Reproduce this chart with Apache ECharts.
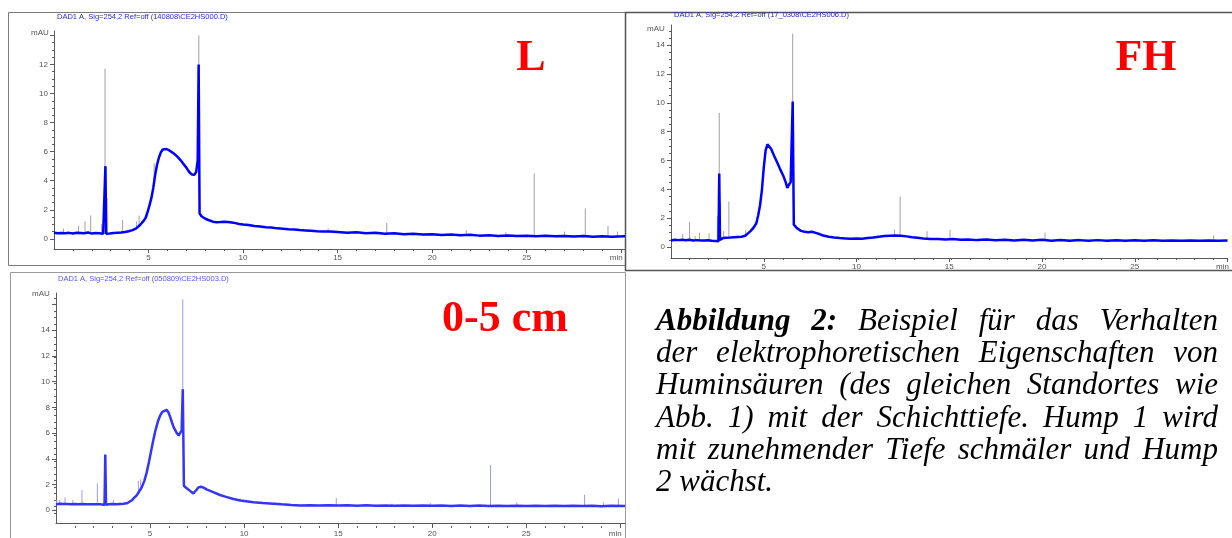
<!DOCTYPE html>
<html>
<head>
<meta charset="utf-8">
<script src="https://cdn.jsdelivr.net/npm/echarts@6/dist/echarts.min.js"></script>
<style>
  html, body { margin: 0; padding: 0; background: #fff; }
  #chart { position: absolute; left: 0; top: 0; width: 1232px; height: 538px; }
  #caption { position: absolute; left: 656px; top: 304px; width: 562px;
    font: italic 31px/32.2px "Liberation Serif", "Times New Roman", serif; color: #000; }
  #caption div { text-align: justify; text-align-last: justify; white-space: nowrap; }
  #caption div.last { text-align-last: left; }
</style>
</head>
<body>
<div id="chart"></div>
<div id="caption">
  <div><b>Abbildung 2:</b> Beispiel für das Verhalten</div>
  <div>der elektrophoretischen Eigenschaften von</div>
  <div>Huminsäuren (des gleichen Standortes wie</div>
  <div>Abb. 1) mit der Schichttiefe. Hump 1 wird</div>
  <div>mit zunehmender Tiefe schmäler und Hump</div>
  <div class="last">2 wächst.</div>
</div>
<script>
// ---- Electropherogram traces: [migration time (min), absorbance (mAU)] ----
const lTrace = [
  [0.0,0.42],[0.1,0.5],[0.2,0.38],[0.3,0.47],[0.4,0.4],[0.5,0.52],[0.6,0.39],[0.7,0.46],[0.8,0.41],[0.9,0.5],
  [1.0,0.37],[1.1,0.48],[1.2,0.42],[1.3,0.55],[1.4,0.4],[1.5,0.47],[1.6,0.38],[1.7,0.5],[1.8,0.43],[1.9,0.47],
  [2.0,0.36],[2.1,0.45],[2.2,0.4],[2.3,0.49],[2.4,0.38],[2.5,0.44],[2.6,0.35],[2.68,0.3],[2.72,5.0],[2.76,0.35],
  [2.85,0.42],[2.95,0.36],[3.05,0.46],[3.15,0.4],[3.25,0.5],[3.35,0.42],[3.45,0.48],[3.55,0.44],[3.65,0.52],[3.75,0.47],
  [3.85,0.55],[3.95,0.52],[4.05,0.6],[4.15,0.6],[4.25,0.7],[4.35,0.72],[4.45,0.85],[4.55,0.95],[4.65,1.05],[4.75,1.25],
  [4.85,1.45],[4.95,1.85],[5.05,2.3],[5.15,2.8],[5.25,3.5],[5.35,4.4],[5.45,5.1],[5.55,5.6],[5.65,5.95],[5.75,6.15],
  [5.85,6.22],[5.95,6.18],[6.1,6.08],[6.25,5.95],[6.4,5.8],[6.55,5.62],[6.7,5.4],[6.85,5.15],[7.0,4.9],[7.15,4.6],
  [7.3,4.42],[7.42,4.4],[7.52,4.6],[7.6,5.4],[7.65,12.0],[7.7,1.75],[7.8,1.55],[7.9,1.45],[8.0,1.38],[8.2,1.28],
  [8.4,1.18],[8.6,1.14],[8.8,1.15],[9.0,1.18],[9.2,1.15],[9.4,1.12],[9.6,1.08],[9.8,1.02],[10.0,0.98],[10.3,0.95],
  [10.6,0.88],[10.9,0.85],[11.2,0.8],[11.5,0.78],[11.8,0.72],[12.1,0.7],[12.4,0.66],[12.7,0.64],[13.0,0.6],[13.3,0.58],
  [13.6,0.55],[13.9,0.52],[14.2,0.5],[14.6,0.5],[15.0,0.47],[15.5,0.42],[16.0,0.45],[16.5,0.38],[17.0,0.41],[17.5,0.35],
  [18.0,0.38],[18.5,0.32],[19.0,0.35],[19.5,0.29],[20.0,0.32],[20.5,0.27],[21.0,0.3],[21.5,0.25],[22.0,0.28],[22.5,0.22],
  [23.0,0.25],[23.5,0.2],[24.0,0.23],[24.5,0.19],[25.0,0.22],[25.5,0.18],[26.0,0.21],[26.5,0.17],[27.0,0.2],[27.5,0.16],
  [28.0,0.19],[28.5,0.15],[29.0,0.18],[29.5,0.15],[30.2,0.17]
];
// Raw detector spikes: [time, foot, apex]
const lSpikes = [
  [0.5,0.4,0.7],[1.3,0.4,0.9],[1.64,0.4,1.2],[1.94,0.4,1.6],[2.52,0.4,1.0],[2.7,0.35,11.7],[2.8,0.4,2.8],
  [3.63,0.45,1.3],[4.37,0.72,1.2],[4.5,0.85,1.6],[5.3,3.9,5.2],[7.6,5.0,5.8],[7.66,4.6,14.0],[14.5,0.5,0.7],
  [17.6,0.35,1.1],[21.8,0.25,0.6],[23.9,0.2,0.45],[25.4,0.2,4.5],[27.0,0.18,0.5],[28.1,0.15,2.1],[29.3,0.15,0.9],[29.8,0.15,0.5]
];

const fhTrace = [
  [0.0,0.45],[0.1,0.4],[0.2,0.5],[0.3,0.42],[0.4,0.48],[0.5,0.4],[0.6,0.5],[0.7,0.43],[0.8,0.47],[0.9,0.4],
  [1.0,0.5],[1.1,0.42],[1.2,0.46],[1.3,0.4],[1.4,0.48],[1.5,0.42],[1.6,0.46],[1.7,0.38],[1.8,0.45],[1.9,0.4],
  [2.0,0.47],[2.1,0.4],[2.2,0.44],[2.3,0.38],[2.4,0.42],[2.5,0.36],[2.56,0.4],[2.6,5.1],[2.64,0.5],[2.7,0.55],
  [2.8,0.62],[2.9,0.58],[3.0,0.65],[3.1,0.6],[3.2,0.66],[3.3,0.62],[3.4,0.68],[3.5,0.64],[3.6,0.7],[3.7,0.66],
  [3.8,0.72],[3.9,0.75],[4.0,0.78],[4.15,0.95],[4.3,1.12],[4.45,1.35],[4.6,1.65],[4.7,2.2],[4.8,2.9],[4.9,3.95],
  [5.0,5.5],[5.1,6.7],[5.2,7.12],[5.3,7.0],[5.4,6.8],[5.55,6.35],[5.75,5.8],[5.9,5.35],[6.05,4.95],[6.18,4.5],
  [6.27,4.1],[6.35,4.3],[6.45,4.5],[6.52,4.6],[6.56,10.1],[6.62,1.55],[6.7,1.42],[6.8,1.3],[6.9,1.2],[7.0,1.12],
  [7.2,1.06],[7.4,1.02],[7.6,1.06],[7.8,0.98],[8.0,0.9],[8.2,0.8],[8.5,0.72],[8.8,0.66],[9.1,0.62],[9.4,0.6],
  [9.7,0.58],[10.0,0.6],[10.3,0.58],[10.6,0.62],[10.9,0.66],[11.2,0.72],[11.5,0.76],[11.8,0.78],[12.1,0.8],[12.4,0.78],
  [12.7,0.74],[13.0,0.68],[13.3,0.64],[13.6,0.6],[14.0,0.56],[14.4,0.55],[14.8,0.52],[15.2,0.55],[15.6,0.5],[16.0,0.53],
  [16.5,0.48],[17.0,0.52],[17.5,0.47],[18.0,0.51],[18.5,0.46],[19.0,0.5],[19.5,0.45],[20.0,0.5],[20.5,0.44],[21.0,0.49],
  [21.5,0.44],[22.0,0.48],[22.5,0.43],[23.0,0.48],[23.5,0.43],[24.0,0.47],[24.5,0.43],[25.0,0.47],[25.5,0.43],[26.0,0.47],
  [26.5,0.43],[27.0,0.46],[27.5,0.43],[28.0,0.46],[28.5,0.43],[29.0,0.46],[29.5,0.43],[30.0,0.45]
];
const fhSpikes = [
  [0.63,0.42,0.9],[1.0,0.45,1.75],[1.3,0.42,0.76],[1.53,0.44,1.0],[2.05,0.44,0.95],[2.5,0.4,2.15],[2.6,0.4,9.3],
  [2.67,0.5,3.05],[2.84,0.6,1.1],[3.12,0.6,3.15],[4.03,0.78,1.2],[6.5,4.5,5.5],[6.56,4.6,14.8],[12.05,0.8,1.2],
  [12.35,0.78,3.5],[13.8,0.6,1.1],[15.04,0.52,1.2],[20.16,0.5,1.0],[29.25,0.46,0.8]
];

const dTrace = [
  [0.0,0.45],[0.1,0.4],[0.2,0.5],[0.3,0.42],[0.4,0.47],[0.5,0.41],[0.6,0.48],[0.7,0.42],[0.8,0.46],[0.9,0.4],
  [1.0,0.47],[1.1,0.42],[1.2,0.46],[1.3,0.4],[1.4,0.47],[1.5,0.42],[1.6,0.45],[1.7,0.41],[1.8,0.46],[1.9,0.42],
  [2.0,0.45],[2.1,0.4],[2.2,0.46],[2.3,0.41],[2.4,0.45],[2.5,0.42],[2.58,0.4],[2.62,4.33],[2.66,0.42],[2.8,0.46],
  [2.9,0.41],[3.0,0.47],[3.1,0.42],[3.2,0.46],[3.3,0.43],[3.4,0.48],[3.5,0.45],[3.6,0.5],[3.7,0.52],[3.8,0.56],
  [3.9,0.62],[4.03,0.77],[4.15,0.95],[4.29,1.15],[4.42,1.45],[4.56,1.77],[4.7,2.3],[4.82,2.92],[4.95,3.8],[5.09,4.85],
  [5.18,5.5],[5.27,6.1],[5.36,6.6],[5.44,7.0],[5.55,7.4],[5.65,7.65],[5.75,7.8],[5.89,7.8],[5.98,7.6],[6.06,7.3],
  [6.15,6.9],[6.24,6.5],[6.33,6.25],[6.42,6.0],[6.52,5.8],[6.6,5.7],[6.68,6.2],[6.74,9.4],[6.8,1.9],[6.95,1.7],
  [7.13,1.5],[7.3,1.3],[7.45,1.55],[7.57,1.77],[7.7,1.82],[7.85,1.75],[8.0,1.62],[8.2,1.5],[8.45,1.35],[8.72,1.18],
  [9.0,1.05],[9.43,0.87],[9.8,0.75],[10.2,0.68],[10.5,0.62],[11.0,0.55],[11.56,0.5],[12.0,0.45],[12.5,0.4],[13.0,0.37],
  [13.5,0.38],[14.0,0.36],[14.5,0.39],[15.0,0.36],[15.5,0.38],[16.0,0.35],[16.5,0.38],[17.0,0.35],[17.5,0.37],[18.0,0.34],
  [18.5,0.37],[19.0,0.34],[19.5,0.37],[20.0,0.34],[20.5,0.36],[21.0,0.33],[21.5,0.36],[22.0,0.33],[22.5,0.36],[23.0,0.33],
  [23.5,0.35],[24.0,0.33],[24.5,0.35],[25.0,0.32],[25.5,0.35],[26.0,0.32],[26.5,0.35],[27.0,0.32],[27.5,0.34],[28.0,0.32],
  [28.5,0.34],[29.0,0.31],[29.5,0.34],[30.25,0.32]
];
const dSpikes = [
  [0.04,0.45,0.8],[0.2,0.45,0.8],[0.48,0.45,1.0],[0.9,0.45,0.8],[1.38,0.45,1.56],[2.2,0.45,2.08],[3.05,0.45,0.77],
  [4.38,1.3,2.28],[4.5,1.5,2.4],[6.74,9.0,16.4],[9.8,0.75,0.9],[11.65,0.5,0.62],[14.9,0.38,0.95],[17.86,0.36,0.5],
  [19.9,0.36,0.55],[23.1,0.35,3.5],[24.5,0.34,0.6],[28.1,0.33,1.2],[29.1,0.33,0.6],[29.9,0.33,0.9]
];

// ---- Axis tick labels ----
const xLabels = [5, 10, 15, 20, 25, 30];
const lYLabels = [0, 2, 4, 6, 8, 10, 12];
const fhYLabels = [0, 2, 4, 6, 8, 10, 12, 14];
const dYLabels = [0, 2, 4, 6, 8, 10, 12, 14];

// ---- Panel scales ----
const panels = [
  { trace: lTrace, spikes: lSpikes, yLabels: lYLabels, yMajor: [0,2,4,6,8,10,12,14],
    grid: { left: 54, right: 607, top: 31, bottom: 289 }, xMax: 30.2, yMin: -0.7, yMax: 14.3,
    line: '#0000ff', spike: '#a0a0a0', xMargin: 5 },
  { trace: fhTrace, spikes: fhSpikes, yLabels: fhYLabels, yMajor: [0,2,4,6,8,10,12,14],
    grid: { left: 671, right: -9, top: 25, bottom: 280 }, xMax: 30, yMin: -0.76, yMax: 15.4,
    line: '#0000ff', spike: '#a0a0a0', xMargin: 5 },
  { trace: dTrace, spikes: dSpikes, yLabels: dYLabels, yMajor: [0,2,4,6,8,10,12,14,16],
    grid: { left: 56, right: 607, top: 293, bottom: 12 }, xMax: 30.25, yMin: -1.0, yMax: 16.9,
    line: '#3434ff', spike: '#9a9aff', xMargin: 7 }
];

function range(a, b, step) {
  const out = [];
  for (let v = a; v <= b + 1e-9; v += step) out.push(Math.round(v * 100) / 100);
  return out;
}
function spikePath(spikes) {
  const out = [];
  spikes.forEach(([t, foot, apex]) => { out.push([t, foot], [t, apex], [t, null]); });
  return out;
}

const axisColor = '#5a5a5a';
const labelStyle = { fontSize: 8, color: '#555', fontFamily: 'Liberation Sans, Arial, sans-serif' };
const grids = [], xAxes = [], yAxes = [], series = [];

panels.forEach((p) => {
  const gMain = grids.length;
  grids.push(Object.assign({ containLabel: false }, p.grid));
  const gMinor = grids.length;
  grids.push(Object.assign({ containLabel: false }, p.grid));

  // main axes: axis lines, major ticks, labels
  xAxes.push({
    gridIndex: gMain, type: 'value', min: 0, max: p.xMax,
    axisLine: { show: true, onZero: false, lineStyle: { color: axisColor, width: 1 } },
    axisTick: { show: true, customValues: xLabels, length: 4, lineStyle: { color: axisColor } },
    axisLabel: Object.assign({ customValues: xLabels, margin: p.xMargin,
      formatter: v => (v === 30 ? '{m|min}' : String(v)),
      rich: { m: { fontSize: 8, color: '#555', padding: [0, 10, 0, 0] } } }, labelStyle),
    splitLine: { show: false }
  });
  yAxes.push({
    gridIndex: gMain, type: 'value', min: p.yMin, max: p.yMax,
    axisLine: { show: true, onZero: false, lineStyle: { color: axisColor, width: 1 } },
    axisTick: { show: true, customValues: p.yMajor, length: 4, lineStyle: { color: axisColor } },
    axisLabel: Object.assign({ customValues: p.yLabels, margin: 6 }, labelStyle),
    splitLine: { show: false }
  });
  // minor tick axes, kept on the grid edges
  xAxes.push({
    gridIndex: gMinor, type: 'value', min: 0, max: p.xMax, position: 'bottom',
    axisLine: { show: false, onZero: false }, axisLabel: { show: false }, splitLine: { show: false },
    axisTick: { show: true, customValues: range(1, Math.floor(p.xMax), 1), length: 2, lineStyle: { color: axisColor } }
  });
  yAxes.push({
    gridIndex: gMinor, type: 'value', min: p.yMin, max: p.yMax, position: 'left',
    axisLine: { show: false, onZero: false }, axisLabel: { show: false }, splitLine: { show: false },
    axisTick: { show: true, customValues: range(0, Math.floor(p.yMax * 2) / 2, 0.5), length: 2, lineStyle: { color: axisColor } }
  });

  series.push({
    type: 'line', xAxisIndex: gMain, yAxisIndex: gMain, data: spikePath(p.spikes),
    showSymbol: false, connectNulls: false, silent: true, z: 2,
    lineStyle: { color: p.spike, width: 1 }
  });
  series.push({
    type: 'line', xAxisIndex: gMain, yAxisIndex: gMain, data: p.trace,
    showSymbol: false, silent: true, z: 3,
    lineStyle: { color: p.line, width: 2.5 }
  });
});

const sans = 'Liberation Sans, Arial, sans-serif';
function txt(text, x, y, font, fill, align) {
  return { type: 'text', silent: true, z: 10,
    style: { text, x, y, font, fill, align: align || 'left', verticalAlign: 'middle',
             textAlign: align || 'left', textVerticalAlign: 'middle' } };
}
const graphic = [
  // panel frames
  { type: 'rect', silent: true, z: 0, shape: { x: 8.5, y: 12.5, width: 617, height: 253 },
    style: { fill: 'none', stroke: '#7a7a7a', lineWidth: 1 } },
  { type: 'rect', silent: true, z: 0, shape: { x: 625.5, y: 12.5, width: 640, height: 258 },
    style: { fill: 'none', stroke: '#555', lineWidth: 1.5 } },
  { type: 'rect', silent: true, z: 0, shape: { x: 10.5, y: 272.5, width: 615, height: 300 },
    style: { fill: 'none', stroke: '#9a9a9a', lineWidth: 1 } },
  // signal headers
  txt('DAD1 A, Sig=254,2 Ref=off (140808\\CE2HS000.D)', 57, 17, '7.5px ' + sans, '#2a2ae0'),
  txt('DAD1 A, Sig=254,2 Ref=off (17_0308\\CE2HS006.D)', 674, 15, '7.5px ' + sans, '#2a2ae0'),
  txt('DAD1 A, Sig=254,2 Ref=off (050809\\CE2HS003.D)', 58, 279, '7.5px ' + sans, '#5555ff'),
  // unit labels
  txt('mAU', 40, 33, '8px ' + sans, '#555', 'center'),
  txt('mAU', 656, 29, '8px ' + sans, '#555', 'center'),
  txt('mAU', 41, 294, '8px ' + sans, '#555', 'center'),
  // sample labels
  txt('L', 531, 59, 'bold 44px "Liberation Serif", "Times New Roman", serif', '#ff0000', 'center'),
  txt('FH', 1146, 59, 'bold 44px "Liberation Serif", "Times New Roman", serif', '#ff0000', 'center'),
  txt('0-5 cm', 505, 320, 'bold 44px "Liberation Serif", "Times New Roman", serif', '#ff0000', 'center')
];

const chart = echarts.init(document.getElementById('chart'), null, { renderer: 'canvas' });
chart.setOption({
  animation: false,
  backgroundColor: '#ffffff',
  grid: grids,
  xAxis: xAxes,
  yAxis: yAxes,
  series: series,
  graphic: graphic
});
</script>
</body>
</html>
